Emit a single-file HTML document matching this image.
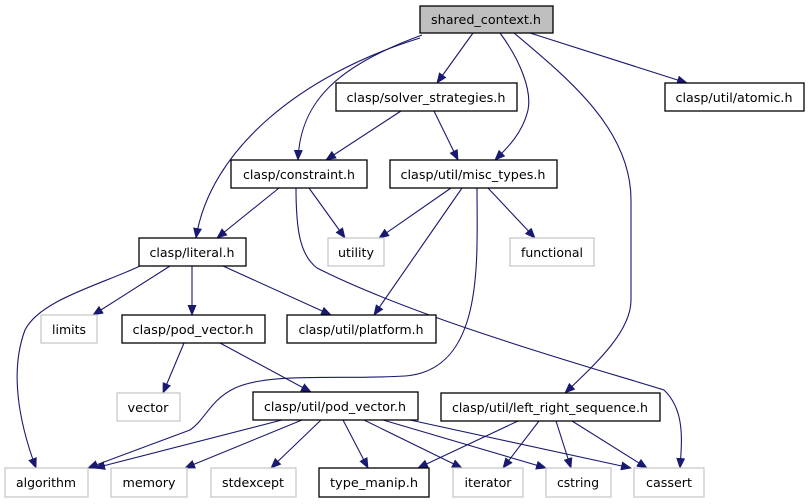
<!DOCTYPE html>
<html><head><meta charset="utf-8"><style>
html,body{margin:0;padding:0;background:#fff;width:809px;height:504px;overflow:hidden}
svg text{font-family:"DejaVu Sans","Liberation Sans",sans-serif;font-size:12px;text-anchor:middle}
</style></head><body>
<svg width="809" height="504" viewBox="0 0 809 504" xmlns="http://www.w3.org/2000/svg">
<defs><marker id="a" markerWidth="11" markerHeight="9" refX="10" refY="4.5" orient="auto" markerUnits="userSpaceOnUse"><path d="M0,0 L11,4.5 L0,9 Z" fill="#191970"/></marker></defs>
<g fill="none" stroke="#191970" stroke-width="1.1" marker-end="url(#a)">
<path d="M473,33 L437,83"/>
<path d="M530,33 L687,83"/>
<path d="M422,35 C340,65 300,100 298,160"/>
<path d="M420,38 C300,75 210,150 196,238"/>
<path d="M500,33 C520,60 532,90 528,110 C522,135 505,150 495,160"/>
<path d="M514,33 C570,80 631,130 631,200 L631,300 C631,330 600,360 565,393"/>
<path d="M401,111 L326,160"/>
<path d="M434,111 L458,160"/>
<path d="M279,188 L217,238"/>
<path d="M309,188 L345,238"/>
<path d="M296,188 C296,230 300,255 317,268 C420,320 600,370 664,390 C685,410 682,440 680,468"/>
<path d="M451,188 L379,238"/>
<path d="M488,188 L535,238"/>
<path d="M462,188 L374,315"/>
<path d="M477,188 C477,260 485,370 405,376 C340,380 270,372 235,388 C210,400 205,420 190,430 L88,468"/>
<path d="M140,266 C100,285 40,300 25,330 C10,370 18,420 36,468"/>
<path d="M170,266 L93,315"/>
<path d="M192,266 L192,315"/>
<path d="M223,266 L331,315"/>
<path d="M184,343 L163,393"/>
<path d="M220,343 L311,392"/>
<path d="M282,420 L95,468"/>
<path d="M302,420 L185,468"/>
<path d="M321,420 L271,468"/>
<path d="M343,420 L368,468"/>
<path d="M364,420 L462,468"/>
<path d="M383,420 L546,468"/>
<path d="M410,420 L631,468"/>
<path d="M518,421 L418,468"/>
<path d="M539,421 L503,468"/>
<path d="M556,421 L571,468"/>
<path d="M572,421 L647,468"/>
</g>
<g stroke-width="1.3">
<rect x="420" y="6" width="133" height="27" fill="#bfbfbf" stroke="#000"/>
<rect x="336" y="83" width="181" height="28" fill="#fff" stroke="#000"/>
<rect x="665" y="83" width="139" height="28" fill="#fff" stroke="#000"/>
<rect x="231" y="160" width="136" height="28" fill="#fff" stroke="#000"/>
<rect x="390" y="160" width="167" height="28" fill="#fff" stroke="#000"/>
<rect x="139" y="238" width="107" height="28" fill="#fff" stroke="#000"/>
<rect x="328" y="238" width="56" height="28" fill="#fff" stroke="#c8c8c8"/>
<rect x="510" y="238" width="84" height="28" fill="#fff" stroke="#c8c8c8"/>
<rect x="41" y="315" width="56" height="28" fill="#fff" stroke="#c8c8c8"/>
<rect x="122" y="315" width="143" height="28" fill="#fff" stroke="#000"/>
<rect x="287" y="315" width="149" height="28" fill="#fff" stroke="#000"/>
<rect x="117" y="393" width="63" height="28" fill="#fff" stroke="#c8c8c8"/>
<rect x="253" y="392" width="165" height="28" fill="#fff" stroke="#000"/>
<rect x="441" y="393" width="219" height="28" fill="#fff" stroke="#000"/>
<rect x="5" y="468" width="83" height="29" fill="#fff" stroke="#c8c8c8"/>
<rect x="111" y="468" width="76" height="29" fill="#fff" stroke="#c8c8c8"/>
<rect x="211" y="468" width="85" height="29" fill="#fff" stroke="#c8c8c8"/>
<rect x="319" y="468" width="110" height="29" fill="#fff" stroke="#000"/>
<rect x="453" y="468" width="70" height="29" fill="#fff" stroke="#c8c8c8"/>
<rect x="546" y="468" width="65" height="29" fill="#fff" stroke="#c8c8c8"/>
<rect x="634" y="468" width="70" height="29" fill="#fff" stroke="#c8c8c8"/>
</g>
<g fill="#000" lengthAdjust="spacingAndGlyphs">
<text x="486" y="24" textLength="110" lengthAdjust="spacingAndGlyphs">shared_context.h</text>
<text x="426" y="102" textLength="159" lengthAdjust="spacingAndGlyphs">clasp/solver_strategies.h</text>
<text x="734" y="102" textLength="117" lengthAdjust="spacingAndGlyphs">clasp/util/atomic.h</text>
<text x="299" y="179" textLength="112" lengthAdjust="spacingAndGlyphs">clasp/constraint.h</text>
<text x="473" y="179" textLength="145" lengthAdjust="spacingAndGlyphs">clasp/util/misc_types.h</text>
<text x="192" y="257" textLength="85" lengthAdjust="spacingAndGlyphs">clasp/literal.h</text>
<text x="356" y="257" textLength="36" lengthAdjust="spacingAndGlyphs">utility</text>
<text x="552" y="257" textLength="62" lengthAdjust="spacingAndGlyphs">functional</text>
<text x="69" y="334" textLength="34" lengthAdjust="spacingAndGlyphs">limits</text>
<text x="193" y="334" textLength="121" lengthAdjust="spacingAndGlyphs">clasp/pod_vector.h</text>
<text x="361" y="334" textLength="125" lengthAdjust="spacingAndGlyphs">clasp/util/platform.h</text>
<text x="148" y="412" textLength="41" lengthAdjust="spacingAndGlyphs">vector</text>
<text x="335" y="411" textLength="142" lengthAdjust="spacingAndGlyphs">clasp/util/pod_vector.h</text>
<text x="550" y="412" textLength="196" lengthAdjust="spacingAndGlyphs">clasp/util/left_right_sequence.h</text>
<text x="46" y="487" textLength="60" lengthAdjust="spacingAndGlyphs">algorithm</text>
<text x="149" y="487" textLength="53" lengthAdjust="spacingAndGlyphs">memory</text>
<text x="253" y="487" textLength="62" lengthAdjust="spacingAndGlyphs">stdexcept</text>
<text x="374" y="487" textLength="88" lengthAdjust="spacingAndGlyphs">type_manip.h</text>
<text x="488" y="487" textLength="47" lengthAdjust="spacingAndGlyphs">iterator</text>
<text x="578" y="487" textLength="42" lengthAdjust="spacingAndGlyphs">cstring</text>
<text x="669" y="487" textLength="46" lengthAdjust="spacingAndGlyphs">cassert</text>
</g>
</svg>
</body></html>
